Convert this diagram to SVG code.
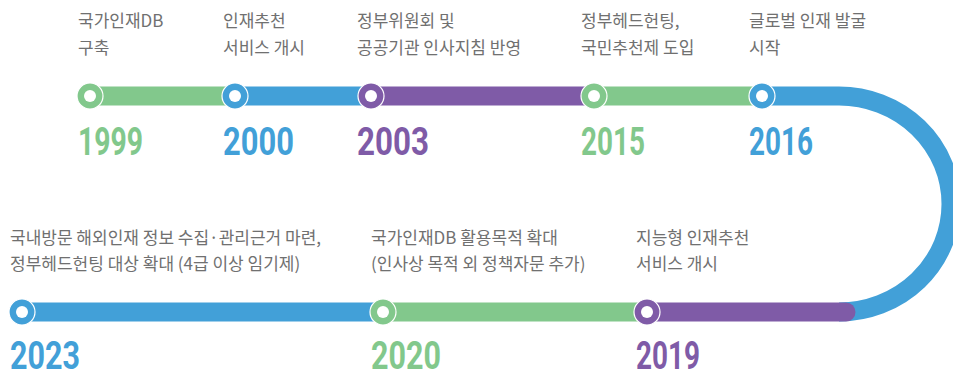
<svg xmlns="http://www.w3.org/2000/svg" width="953" height="373" viewBox="0 0 953 373">
<style>
.lbl{font-family:"Noto Sans CJK KR","Noto Sans",sans-serif;font-size:17px;fill:#707070;}
.yr{font-family:Roboto,"Liberation Sans",sans-serif;font-weight:700;font-size:39px;}
.seg{fill:none;stroke-width:19;}
.g{stroke:#82c88c;} .b{stroke:#42a0d8;} .p{stroke:#7f5ba7;}
.gf{fill:#82c88c;} .bf{fill:#42a0d8;} .pf{fill:#7f5ba7;}
.dot{stroke:#fff;stroke-width:1.2;}
</style>
<defs>
<circle id="hole" r="6" fill="#fff"/>
</defs>
<g id="connectors">
<line class="seg g" x1="90" y1="96" x2="235" y2="96"/>
<line class="seg b" x1="235" y1="96" x2="371" y2="96"/>
<line class="seg p" x1="371" y1="96" x2="594" y2="96"/>
<line class="seg g" x1="594" y1="96" x2="762" y2="96"/>
<path class="seg b" d="M762 96 H839 A112 108 0 0 1 839 312"/>
<line class="seg b" x1="22" y1="312" x2="383" y2="312"/>
<line class="seg g" x1="383" y1="312" x2="647" y2="312"/>
<line class="seg p" x1="647" y1="312" x2="846" y2="312" stroke-linecap="round"/>
</g>
<g id="n1999">
<circle class="dot gf" cx="90" cy="96" r="13"/><use href="#hole" x="90" y="96"/>
<text class="yr gf" x="78" y="155" textLength="65" lengthAdjust="spacingAndGlyphs">1999</text>
<text class="lbl" x="78" y="27"><tspan x="78">국가인재DB</tspan><tspan x="78" y="54">구축</tspan></text>
</g>
<g id="n2000">
<circle class="dot bf" cx="235" cy="96" r="13"/><use href="#hole" x="235" y="96"/>
<text class="yr bf" x="223" y="155" textLength="71" lengthAdjust="spacingAndGlyphs">2000</text>
<text class="lbl" x="223" y="27"><tspan x="223">인재추천</tspan><tspan x="223" y="54">서비스 개시</tspan></text>
</g>
<g id="n2003">
<circle class="dot pf" cx="371" cy="96" r="13"/><use href="#hole" x="371" y="96"/>
<text class="yr pf" x="357" y="155" textLength="72" lengthAdjust="spacingAndGlyphs">2003</text>
<text class="lbl" x="357" y="27"><tspan x="357">정부위원회 및</tspan><tspan x="357" y="54">공공기관 인사지침 반영</tspan></text>
</g>
<g id="n2015">
<circle class="dot gf" cx="594" cy="96" r="13"/><use href="#hole" x="594" y="96"/>
<text class="yr gf" x="581" y="155" textLength="64" lengthAdjust="spacingAndGlyphs">2015</text>
<text class="lbl" x="581" y="27"><tspan x="581">정부헤드헌팅,</tspan><tspan x="581" y="54">국민추천제 도입</tspan></text>
</g>
<g id="n2016">
<circle class="dot bf" cx="762" cy="96" r="13"/><use href="#hole" x="762" y="96"/>
<text class="yr bf" x="749" y="155" textLength="64" lengthAdjust="spacingAndGlyphs">2016</text>
<text class="lbl" x="749" y="27"><tspan x="749">글로벌 인재 발굴</tspan><tspan x="749" y="54">시작</tspan></text>
</g>
<g id="n2019">
<circle class="dot pf" cx="647" cy="312" r="13"/><use href="#hole" x="647" y="312"/>
<text class="yr pf" x="636" y="369" textLength="64" lengthAdjust="spacingAndGlyphs">2019</text>
<text class="lbl" x="636" y="244"><tspan x="636">지능형 인재추천</tspan><tspan x="636" y="270">서비스 개시</tspan></text>
</g>
<g id="n2020">
<circle class="dot gf" cx="383" cy="312" r="13"/><use href="#hole" x="383" y="312"/>
<text class="yr gf" x="371" y="369" textLength="70" lengthAdjust="spacingAndGlyphs">2020</text>
<text class="lbl" x="371" y="244"><tspan x="371">국가인재DB 활용목적 확대</tspan><tspan x="371" y="270">(인사상 목적 외 정책자문 추가)</tspan></text>
</g>
<g id="n2023">
<circle class="dot bf" cx="22" cy="312" r="13"/><use href="#hole" x="22" y="312"/>
<text class="yr bf" x="10" y="369" textLength="70" lengthAdjust="spacingAndGlyphs">2023</text>
<text class="lbl" x="10" y="244"><tspan x="10">국내방문 해외인재 정보 수집·관리근거 마련,</tspan><tspan x="10" y="270">정부헤드헌팅 대상 확대 (4급 이상 임기제)</tspan></text>
</g>
</svg>
